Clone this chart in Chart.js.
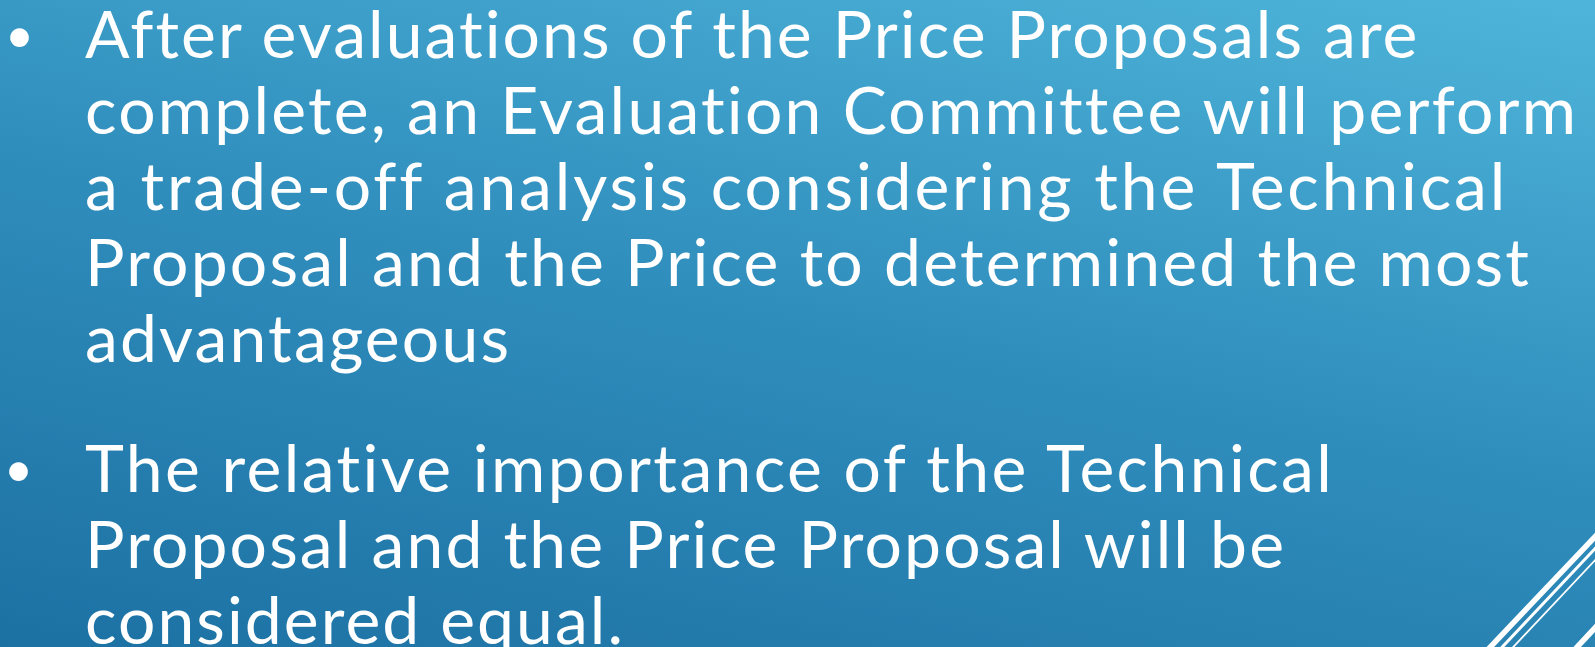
<!DOCTYPE html>
<html>
<head>
<meta charset="utf-8">
<script src="https://cdn.jsdelivr.net/npm/chart.js@4/dist/chart.umd.min.js"></script>
<style>
  html, body { margin: 0; padding: 0; }
  body {
    width: 1595px; height: 647px; overflow: hidden; position: relative;
    background: linear-gradient(12deg, #1c71a3 0%, #2f8dbc 50%, #4fb5da 100%);
    font-family: "Lato", "Open Sans", sans-serif;
  }
  #deco { position: absolute; left: 0; top: 0; z-index: 0; }
  .line { position: absolute; left: 85px; color: #ffffff; font-size: 66px; line-height: 76px; white-space: nowrap; z-index: 1; }
  .bullet { position: absolute; color: #ffffff; font-size: 50px; line-height: 60px; white-space: nowrap; z-index: 1; }
  .probe { display: inline-block; width: 0; height: 0; vertical-align: baseline; }
</style>
</head>
<body>
<canvas id="deco" width="1595" height="647"></canvas>
<div id="text"></div>
<script>
// ---- content ----
const bullet1Lines = [
  "After evaluations of the Price Proposals are",
  "complete, an Evaluation Committee will perform",
  "a trade-off analysis considering the Technical",
  "Proposal and the Price to determined the most",
  "advantageous"
];
const bullet2Lines = [
  "The relative importance of the Technical",
  "Proposal and the Price Proposal will be",
  "considered equal."
];

// decorative corner stripes (in page units)
const stripeStartX = [1478, 1490, 1501, 1565];
const stripeStartY = [660, 660, 660, 660];
const stripeEndX   = [1611, 1622, 1633, 1621];
const stripeEndY   = [520, 520, 520, 600];

// ---- layout (kept separate from content) ----
const stripeWidths = [5.5, 3, 1.8, 5.5];
const bullet1Baselines = [58, 134, 210, 286, 362];
const bullet2Baselines = [492, 568, 644];
const bullet1Ends = [1417, 1575, 1503, 1529, 509];
const bullet2Ends = [1333, 1284, 623];
const textLeft = 85;

function placeLine(text, baseline, endX, cls, left) {
  const d = document.createElement('div');
  d.className = cls;
  d.style.left = left + 'px';
  d.style.top = '0px';
  const t = document.createElement('span');
  t.textContent = text;
  d.appendChild(t);
  const p = document.createElement('span');
  p.className = 'probe';
  d.appendChild(p);
  document.getElementById('text').appendChild(d);
  if (endX != null) {
    const w = t.getBoundingClientRect().width;
    const n = text.length;
    const ls = (endX - left - w) / (n - 1);
    t.style.letterSpacing = ls + 'px';
    t.style.marginRight = (-ls) + 'px';
  }
  const b = p.getBoundingClientRect().top;
  d.style.top = (baseline - b) + 'px';
}

bullet1Lines.forEach((s, i) => placeLine(s, bullet1Baselines[i], bullet1Ends[i], 'line', textLeft));
bullet2Lines.forEach((s, i) => placeLine(s, bullet2Baselines[i], bullet2Ends[i], 'line', textLeft));
placeLine('•', 52.5, null, 'bullet', 5);
placeLine('•', 486.5, null, 'bullet', 4);

// ---- Chart.js draws the corner stripes ----
const datasets = stripeStartX.map((x0, i) => ({
  data: [{ x: x0, y: stripeStartY[i] }, { x: stripeEndX[i], y: stripeEndY[i] }],
  showLine: true,
  borderColor: '#ffffff',
  borderWidth: stripeWidths[i],
  pointRadius: 0,
  clip: 0
}));

new Chart(document.getElementById('deco'), {
  type: 'scatter',
  data: { datasets },
  options: {
    responsive: false,
    animation: false,
    events: [],
    layout: { padding: 0 },
    plugins: { legend: { display: false }, tooltip: { enabled: false } },
    scales: {
      x: { type: 'linear', min: 0, max: 1595, display: false },
      y: { type: 'linear', min: 0, max: 647, reverse: true, display: false }
    }
  }
});
</script>
</body>
</html>
